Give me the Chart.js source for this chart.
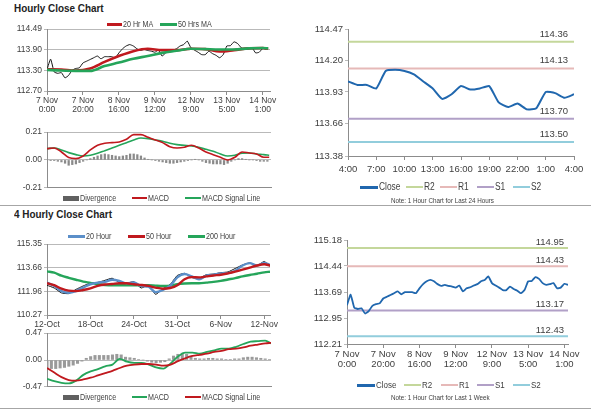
<!DOCTYPE html>
<html>
<head>
<meta charset="utf-8">
<script src="https://cdn.jsdelivr.net/npm/chart.js@4.4.1/dist/chart.umd.min.js"></script>
<style>
body { margin: 0; background: #fff; width: 600px; height: 413px; position: relative; overflow: hidden;
       font-family: 'Liberation Sans Narrow', 'Liberation Sans', Arial, sans-serif; color: #404040; }
canvas { position: absolute; }
.t { position: absolute; white-space: nowrap; transform-origin: 0 50%; }
.narrow { transform: scaleX(0.84); }
.title { font-family: 'Liberation Sans', Arial, sans-serif; font-weight: bold; font-size: 11px; color: #222; transform: scaleX(0.9); }
.hr { position: absolute; left: 0; width: 591px; height: 1px; background: #a6a6a6; }
.sw { position: absolute; }
</style>
</head>
<body>
<div class="t title" style="left:14px;top:2px">Hourly Close Chart</div>
<div class="t title" style="left:14px;top:208px">4 Hourly Close Chart</div>
<div class="hr" style="top:205px"></div>
<div class="hr" style="top:408px"></div>

<canvas id="hourPrice"></canvas>
<canvas id="hourMacd"></canvas>
<canvas id="dayClose"></canvas>
<canvas id="fourPrice"></canvas>
<canvas id="fourMacd"></canvas>
<canvas id="weekClose"></canvas>

<script>
// ---- hourly close, 1 week, one value every 2 hours from 7 Nov 0:00
const weekClose = [113.32, 113.62, 113.25, 113.21, 113.23, 113.08, 113.15, 113.30, 113.35, 113.37,
    113.51, 113.56, 113.61, 113.66, 113.71, 113.63, 113.69, 113.69, 113.69, 113.66,
    113.80, 113.92, 114.00, 114.04, 114.00, 113.92, 113.87, 113.90, 113.87, 113.85,
    113.82, 113.88, 113.71, 113.80, 113.83, 113.88, 113.92, 114.00, 114.04, 114.14,
    113.95, 113.88, 113.82, 113.75, 113.75, 113.85, 113.78, 113.73, 113.66, 113.75,
    114.00, 114.01, 114.12, 114.07, 113.95, 113.90, 113.92, 113.95, 113.80, 113.82,
    113.93, 113.90];
const weekStep = 2;
const weekTickHours = [0, 20, 40, 60, 80, 100, 120];
const weekTickLabels = [['7 Nov', '0:00'], ['7 Nov', '20:00'], ['8 Nov', '16:00'], ['9 Nov', '12:00'],
    ['12 Nov', '9:00'], ['13 Nov', '5:00'], ['14 Nov', '1:00']];

// moving averages on the hourly chart
const maHours = [0, 8, 16, 24, 32, 40, 48, 56, 64, 72, 80, 88, 96, 104, 112, 120, 123];
const ma20Hr = [113.33, 113.32, 113.29, 113.35, 113.54, 113.71, 113.85, 113.92, 113.88, 113.88,
    113.92, 113.91, 113.84, 113.88, 113.93, 113.94, 113.92];
const ma50Hr = [113.31, 113.29, 113.28, 113.28, 113.42, 113.52, 113.63, 113.71, 113.80, 113.86,
    113.92, 113.91, 113.90, 113.90, 113.93, 113.94, 113.93];

// hourly MACD
const macdHours = [0, 4, 8, 12, 16, 20, 24, 28, 32, 36, 40, 44, 48, 52, 56, 60, 64, 68, 72, 76,
    80, 84, 88, 92, 96, 100, 104, 108, 112, 116, 120, 123];
const hourMacd = [0.085, 0.09, 0.06, 0.018, 0.01, 0.03, 0.075, 0.11, 0.125, 0.13,
    0.135, 0.155, 0.19, 0.19, 0.17, 0.15, 0.13, 0.10, 0.09, 0.095,
    0.11, 0.09, 0.06, 0.04, 0.02, 0.0, 0.02, 0.06, 0.052, 0.045, 0.02, 0.02];
const hourSignal = [0.085, 0.09, 0.075, 0.055, 0.04, 0.03, 0.035, 0.05, 0.07, 0.09,
    0.11, 0.13, 0.15, 0.165, 0.16, 0.15, 0.14, 0.125, 0.115, 0.11,
    0.105, 0.095, 0.08, 0.065, 0.045, 0.03, 0.035, 0.05, 0.052, 0.045, 0.04, 0.035];
const hourDivergence = [-0.005, -0.005, -0.005, -0.01, -0.015, -0.025, -0.04, -0.035, -0.03, -0.02,
    -0.01, 0, 0.01, 0.02, 0.03, 0.04, 0.045, 0.04, 0.035, 0.03,
    0.025, 0.03, 0.035, 0.045, 0.045, 0.04, 0.03, 0.015, 0.005, 0,
    -0.005, -0.01, -0.015, -0.02, -0.025, -0.025, -0.02, -0.015, -0.01, -0.005,
    0, 0.005, 0, -0.01, -0.02, -0.025, -0.03, -0.03, -0.03, -0.035,
    -0.025, -0.01, 0, 0.01, 0.01, 0.005, 0, 0, -0.005, -0.01,
    -0.01, -0.01];

// last 24 hours
const dayClose = [114.02, 113.99, 113.99, 113.96, 114.11, 114.12, 114.11, 114.08, 114.02, 113.96,
    113.87, 113.91, 113.98, 113.95, 113.96, 113.98, 113.84, 113.80, 113.83, 113.78,
    113.79, 113.93, 113.92, 113.88, 113.91];
const dayTickLabels = ['4:00', '7:00', '10:00', '13:00', '16:00', '19:00', '22:00', '1:00', '4:00'];

// support / resistance (R2, R1, S1, S2)
const levelNames = ['R2', 'R1', 'S1', 'S2'];
const levelColors = ['#c4d79b', '#e6b9b8', '#b1a0c7', '#92cddc'];
const dayLevels = [114.36, 114.13, 113.70, 113.50];
const weekLevels = [114.95, 114.43, 113.17, 112.43];

// 4 hourly chart, x = bar number (30 bars between date labels)
const fourBars = [0, 5, 10, 15, 20, 25, 30, 35, 40, 45, 50, 55, 60, 65, 70, 75, 80, 85, 90, 95,
    100, 105, 110, 115, 120, 125, 130, 135, 140, 145, 150, 154];
const fourTickBars = [0, 30, 60, 90, 120, 150];
const fourTickLabels = ['12-Oct', '18-Oct', '24-Oct', '31-Oct', '6-Nov', '12-Nov'];
const fourClose = [112.40, 112.20, 111.85, 111.80, 112.10, 112.35, 112.55, 112.60, 112.75, 112.90,
    112.60, 112.55, 112.65, 112.20, 112.40, 111.75, 112.15, 112.45, 113.10, 113.25,
    112.95, 112.90, 113.15, 113.20, 113.30, 113.35, 113.60, 113.85, 114.00, 113.80, 114.10, 113.75];
const ma20Hour = [112.59, 112.35, 111.98, 111.86, 111.98, 112.23, 112.47, 112.59, 112.64, 112.79,
    112.71, 112.54, 112.59, 112.35, 112.30, 111.91, 112.06, 112.35, 112.96, 113.20,
    113.03, 112.83, 113.08, 113.15, 113.25, 113.27, 113.44, 113.81, 113.98, 113.81, 114.00, 113.85];
const ma50Hour = [112.54, 112.40, 112.15, 112.01, 111.98, 112.06, 112.18, 112.35, 112.45, 112.49,
    112.54, 112.54, 112.47, 112.42, 112.35, 112.23, 112.15, 112.20, 112.40, 112.83,
    112.98, 112.96, 113.03, 113.10, 113.15, 113.25, 113.37, 113.51, 113.66, 113.81, 113.90, 113.81];
const ma200Hour = [113.39, 113.30, 113.08, 112.93, 112.79, 112.66, 112.57, 112.47, 112.42, 112.40,
    112.40, 112.40, 112.40, 112.40, 112.40, 112.37, 112.35, 112.37, 112.47, 112.52,
    112.54, 112.54, 112.59, 112.64, 112.71, 112.81, 112.91, 113.03, 113.13, 113.22, 113.32, 113.37];
const fourMacd = [-0.33, -0.37, -0.40, -0.41, -0.36, -0.26, -0.20, -0.16, -0.11, -0.08,
    0.02, -0.03, -0.05, -0.05, -0.08, -0.13, -0.15, -0.06, 0.06, 0.13,
    0.13, 0.11, 0.14, 0.17, 0.20, 0.20, 0.23, 0.28, 0.32, 0.33, 0.34, 0.29];
const fourSignal = [-0.14, -0.22, -0.30, -0.35, -0.36, -0.34, -0.31, -0.27, -0.23, -0.19,
    -0.14, -0.10, -0.08, -0.07, -0.07, -0.08, -0.10, -0.08, -0.02, 0.03,
    0.07, 0.09, 0.11, 0.14, 0.16, 0.19, 0.20, 0.22, 0.25, 0.27, 0.29, 0.30];
const divStep = 3;
const fourDivergence = [-0.15, -0.15, -0.15, -0.14, -0.13, -0.11, -0.09, -0.06, -0.02, 0.03,
    0.06, 0.08, 0.08, 0.08, 0.08, 0.09, 0.10, 0.09, 0.05, 0.04,
    0.03, 0.01, 0.00, -0.02, -0.04, -0.05, -0.04, -0.03, 0.02, 0.07,
    0.10, 0.12, 0.10, 0.06, 0.03, 0.02, 0.02, 0.03, 0.03, 0.02,
    0.02, 0.01, 0.01, 0.02, 0.02, 0.04, 0.05, 0.05, 0.04, 0.03,
    0.02, 0.01];

const FONT = "'Liberation Sans Narrow', 'Liberation Sans', Arial, sans-serif";
const AXIS = '#8c8c8c';
const TXT = '#404040';
const RED = '#c0191e';
const GREEN = '#25a55a';
const BLUE = '#2067ae';
const GREY = '#8a8a8a';

function place(id, x0, y0, x1, y1) {
    const c = document.getElementById(id);
    c.width = x1 - x0;
    c.height = y1 - y0;
    c.style.left = x0 + 'px';
    c.style.top = y0 + 'px';
    c.style.width = (x1 - x0) + 'px';
    c.style.height = (y1 - y0) + 'px';
    return c;
}

function xAxis(o) {
    return {
        type: 'linear', min: o.min, max: o.max, offset: false,
        afterBuildTicks: s => { s.ticks = o.ticks.map(v => ({ value: v })); },
        afterFit: s => { s.height = o.height; },
        ticks: {
            display: !!o.labels, autoSkip: false, maxRotation: 0, minRotation: 0,
            callback: (v, i) => o.labels ? o.labels[i] : '',
            font: { family: FONT, size: o.size || 9, lineHeight: 1.1 }, color: TXT, padding: o.pad || 1
        },
        grid: { display: !!o.labels, drawOnChartArea: false, tickLength: 4, color: AXIS, offset: false },
        border: { color: AXIS }
    };
}

function yAxis(o) {
    return {
        type: 'linear', min: o.min, max: o.max,
        afterBuildTicks: s => { s.ticks = o.ticks.map(v => ({ value: v })); },
        afterFit: s => { s.width = o.width; },
        ticks: { callback: v => v.toFixed(2), font: { family: FONT, size: o.size || 9 }, color: TXT, padding: 2 },
        grid: { drawOnChartArea: !!o.grid, color: '#b9b9b9', tickLength: 3 },
        border: { color: AXIS }
    };
}

function baseOptions(pad, x, y) {
    return {
        responsive: false, animation: false, events: [],
        layout: { padding: { left: 0, bottom: 0, top: pad.top, right: pad.right } },
        plugins: { legend: { display: false }, tooltip: { enabled: false } },
        scales: { x: x, y: y }
    };
}

function series(xs, ys) {
    return ys.map((v, i) => ({ x: xs[i], y: v }));
}

function stepped(step, ys) {
    return ys.map((v, i) => ({ x: i * step, y: v }));
}

function lineSet(data, color, width, smooth) {
    return { type: 'line', data: data, borderColor: color, borderWidth: width, pointRadius: 0,
        cubicInterpolationMode: smooth ? 'monotone' : 'default', tension: smooth ? 0 : 0.15 };
}

const levelLabels = {
    id: 'levelLabels',
    afterDatasetsDraw(chart, args, opts) {
        const { ctx, chartArea, scales } = chart;
        ctx.save();
        ctx.font = opts.size + 'px ' + FONT;
        ctx.fillStyle = TXT;
        ctx.textAlign = 'right';
        ctx.textBaseline = 'bottom';
        opts.values.forEach(v => {
            ctx.fillText(v.toFixed(2), chartArea.right - opts.inset, scales.y.getPixelForValue(v) - opts.gap);
        });
        ctx.restore();
    }
};

function levelSets(levels, x0, x1) {
    return levels.map((v, i) => lineSet([{ x: x0, y: v }, { x: x1, y: v }], levelColors[i], 2, false));
}

// ---------- hourly price with moving averages
new Chart(place('hourPrice', 0, 18, 290, 120), {
    type: 'line',
    data: { datasets: [
        lineSet(series(maHours, ma50Hr), GREEN, 2.6, true),
        lineSet(series(maHours, ma20Hr), RED, 2.6, true),
        lineSet(stepped(weekStep, weekClose), '#111', 1, false)
    ] },
    options: baseOptions({ top: 11, right: 20 },
        xAxis({ min: 0, max: 124, ticks: weekTickHours, labels: weekTickLabels, height: 29, size: 8.5 }),
        yAxis({ min: 112.70, max: 114.49, ticks: [112.70, 113.30, 113.90, 114.49], width: 47, size: 8.5, grid: true }))
});

// ---------- hourly MACD
new Chart(place('hourMacd', 0, 122, 290, 195), {
    type: 'line',
    data: { datasets: [
        lineSet(series(macdHours, hourMacd), RED, 1.6, true),
        lineSet(series(macdHours, hourSignal), GREEN, 1.6, true),
        { type: 'bar', data: stepped(weekStep, hourDivergence), backgroundColor: GREY, barThickness: 1.6, grouped: false }
    ] },
    options: baseOptions({ top: 10, right: 19 },
        xAxis({ min: 0, max: 124, ticks: weekTickHours, height: 7 }),
        yAxis({ min: -0.21, max: 0.21, ticks: [-0.21, 0, 0.21], width: 47, size: 8.5, grid: true }))
});

// ---------- last 24 hours with levels
const dayOpts = baseOptions({ top: 11, right: 16 },
    xAxis({ min: 0, max: 24, ticks: [0, 3, 6, 9, 12, 15, 18, 21, 24], labels: dayTickLabels, height: 24, size: 9.5, pad: 4 }),
    yAxis({ min: 113.38, max: 114.47, ticks: [113.38, 113.66, 113.93, 114.20, 114.47], width: 48, size: 9.5 }));
dayOpts.plugins.levelLabels = { values: dayLevels, size: 9.5, inset: 6, gap: 3 };
new Chart(place('dayClose', 300, 18, 590, 180), {
    type: 'line',
    data: { datasets: [lineSet(stepped(1, dayClose), BLUE, 2, false)].concat(levelSets(dayLevels, 0, 24)) },
    options: dayOpts,
    plugins: [levelLabels]
});

// ---------- 4 hourly price with moving averages
new Chart(place('fourPrice', 0, 228, 290, 332), {
    type: 'line',
    data: { datasets: [
        lineSet(series(fourBars, ma50Hour), RED, 2.4, true),
        lineSet(series(fourBars, ma20Hour), '#5b8fc9', 2.4, true),
        lineSet(series(fourBars, ma200Hour), GREEN, 2.4, true),
        lineSet(series(fourBars, fourClose), '#111', 1, false)
    ] },
    options: baseOptions({ top: 16, right: 20 },
        xAxis({ min: 0, max: 154, ticks: fourTickBars, labels: fourTickLabels, height: 17, size: 8.5 }),
        yAxis({ min: 110.27, max: 115.35, ticks: [110.27, 111.96, 113.66, 115.35], width: 47, size: 8.5, grid: true }))
});

// ---------- 4 hourly MACD
new Chart(place('fourMacd', 0, 326, 290, 394), {
    type: 'line',
    data: { datasets: [
        lineSet(series(fourBars, fourSignal), RED, 1.8, true),
        lineSet(series(fourBars, fourMacd), GREEN, 1.8, true),
        { type: 'bar', data: stepped(divStep, fourDivergence), backgroundColor: '#9a9a9a', barThickness: 2.4, grouped: false }
    ] },
    options: baseOptions({ top: 7, right: 19 },
        xAxis({ min: 0, max: 154, ticks: fourTickBars, height: 7 }),
        yAxis({ min: -0.47, max: 0.47, ticks: [-0.47, 0, 0.47], width: 47, size: 8.5, grid: true }))
});

// ---------- last week with levels
const weekOpts = baseOptions({ top: 14, right: 22 },
    xAxis({ min: 0, max: 122, ticks: weekTickHours, labels: weekTickLabels, height: 30, size: 9.5 }),
    yAxis({ min: 112.21, max: 115.18, ticks: [112.21, 112.95, 113.69, 114.44, 115.18], width: 47, size: 9.5 }));
weekOpts.plugins.levelLabels = { values: weekLevels, size: 9.5, inset: 4, gap: 1 };
new Chart(place('weekClose', 300, 226, 590, 374), {
    type: 'line',
    data: { datasets: [lineSet(stepped(weekStep, weekClose), BLUE, 1.8, false)].concat(levelSets(weekLevels, 0, 122)) },
    options: weekOpts,
    plugins: [levelLabels]
});

// ---------- legends
function legend(y, size, items) {
    items.forEach(it => {
        const sw = document.createElement('div');
        sw.className = 'sw';
        sw.style.left = it.x + 'px';
        sw.style.width = it.w + 'px';
        sw.style.height = it.h + 'px';
        sw.style.top = (y - it.h / 2) + 'px';
        sw.style.background = it.color;
        document.body.appendChild(sw);
        const t = document.createElement('div');
        t.className = 't narrow';
        t.textContent = it.text;
        t.style.left = (it.x + it.w + 1) + 'px';
        t.style.top = (y - size * 0.6) + 'px';
        t.style.fontSize = size + 'px';
        t.style.lineHeight = (size * 1.2) + 'px';
        document.body.appendChild(t);
    });
}

legend(24.5, 8.5, [
    { x: 107, w: 15, h: 3, color: RED, text: '20 Hr MA' },
    { x: 160, w: 17, h: 3, color: GREEN, text: '50 Hrs MA' }
]);
legend(198, 8.5, [
    { x: 63, w: 16, h: 5, color: '#606060', text: 'Divergence' },
    { x: 132, w: 15, h: 1.5, color: RED, text: 'MACD' },
    { x: 185, w: 16, h: 1.5, color: GREEN, text: 'MACD Signal Line' }
]);
const dayLegend = [{ x: 360, w: 18, h: 3, color: BLUE, text: 'Close' }];
[406, 440, 477, 513].forEach((x, i) => dayLegend.push({ x: x, w: 17, h: 2, color: levelColors[i], text: levelNames[i] }));
legend(187, 10, dayLegend);
legend(236.5, 8.5, [
    { x: 68, w: 17, h: 3, color: '#5b8fc9', text: '20 Hour' },
    { x: 128, w: 17, h: 3, color: RED, text: '50 Hour' },
    { x: 188, w: 17, h: 3, color: GREEN, text: '200 Hour' }
]);
legend(397, 8.5, [
    { x: 63, w: 16, h: 5, color: '#606060', text: 'Divergence' },
    { x: 132, w: 15, h: 1.5, color: GREEN, text: 'MACD' },
    { x: 185, w: 16, h: 1.5, color: RED, text: 'MACD Signal Line' }
]);
const weekLegend = [{ x: 357, w: 18, h: 3, color: BLUE, text: 'Close' }];
[404, 441, 477, 513].forEach((x, i) => weekLegend.push({ x: x, w: 17, h: 2, color: levelColors[i], text: levelNames[i] }));
legend(385, 9.5, weekLegend);

function note(x, y, text) {
    const t = document.createElement('div');
    t.className = 't narrow';
    t.textContent = text;
    t.style.left = x + 'px';
    t.style.top = (y - 5) + 'px';
    t.style.fontSize = '7.5px';
    t.style.lineHeight = '10px';
    document.body.appendChild(t);
}
note(391, 201, 'Note: 1 Hour Chart for Last 24 Hours');
note(391, 398, 'Note: 1 Hour Chart for Last 1 Week');
</script>
</body>
</html>
